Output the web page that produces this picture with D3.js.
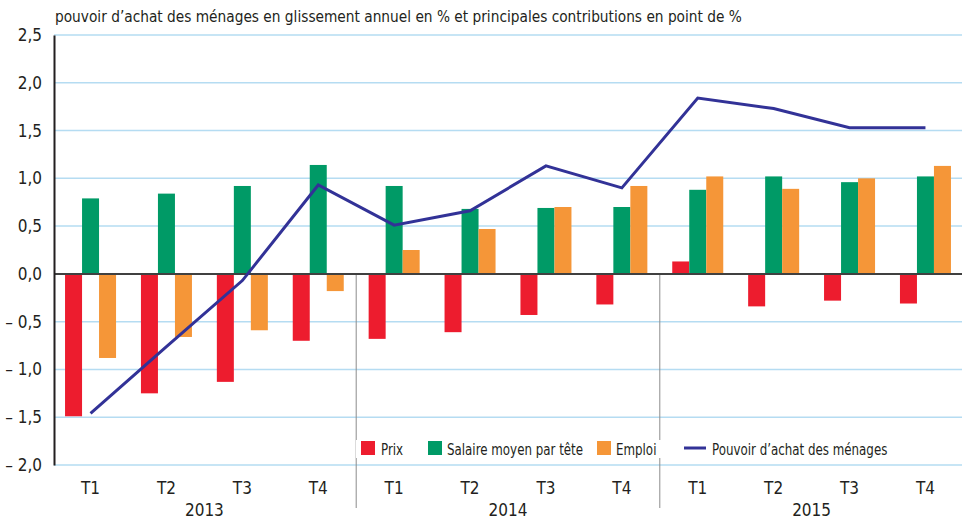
<!DOCTYPE html>
<html>
<head>
<meta charset="utf-8">
<script src="https://cdn.jsdelivr.net/npm/d3@7"></script>
<style>
	body { margin: 0; background: #fff; }
	svg text { font-family: "DejaVu Sans Condensed", "Liberation Sans Narrow", sans-serif; fill: #231f20; }
</style>
</head>
<body>
<div id="chartDiv"></div>
<script>
;(function() {

	const COLORS = {
		RED: '#ed1c2e',
		GREEN: '#009a66',
		ORANGE: '#f59638',
		LINE: '#323297',
		GRID: '#b5dcf2',
	};

	// data
	var years = ["2013", "2014", "2015"];
	var quarters = ["T1", "T2", "T3", "T4"];
	var prix = [-1.49, -1.25, -1.13, -0.70, -0.68, -0.61, -0.43, -0.32, 0.13, -0.34, -0.28, -0.31];
	var salaire = [0.79, 0.84, 0.92, 1.14, 0.92, 0.68, 0.69, 0.70, 0.88, 1.02, 0.96, 1.02];
	var emploi = [-0.88, -0.66, -0.59, -0.18, 0.25, 0.47, 0.70, 0.92, 1.02, 0.89, 1.00, 1.13];
	var pouvoir = [-1.46, -0.76, -0.07, 0.93, 0.51, 0.66, 1.13, 0.90, 1.84, 1.73, 1.53, 1.53];
	var yTicks = [-2, -1.5, -1, -0.5, 0, 0.5, 1, 1.5, 2, 2.5];
	var seriesNames = ["Prix", "Salaire moyen par tête", "Emploi"];
	var lineName = "Pouvoir d\u2019achat des ménages";
	var title = "pouvoir d\u2019achat des ménages en glissement annuel en % et principales contributions en point de %";

	var width = 962;
	var height = 519;
	var plot = { left: 54, right: 962, top: 35, bottom: 465 };

	var categories = [];
	years.forEach(y => quarters.forEach(q => categories.push({ id: y + q, year: y, q: q })));

	var svg = d3.select("#chartDiv").append("svg")
		.attr("width", width)
		.attr("height", height);

	var x0 = d3.scaleBand()
		.domain(categories.map(c => c.id))
		.range([plot.left, plot.right])
		.paddingInner(0.328)
		.paddingOuter(0.1455);

	var x1 = d3.scaleBand()
		.domain(seriesNames)
		.range([0, x0.bandwidth()]);

	var y = d3.scaleLinear()
		.domain([-2, 2.5])
		.range([plot.bottom, plot.top]);

	var fmt = d3.format(".1f");
	function tickLabel(v) {
		var s = fmt(Math.abs(v)).replace(".", ",");
		return v < 0 ? "\u2013 " + s : s;
	}

	// squeeze text horizontally around its anchor point
	function condensed(parent, x, yPos, size, sx, str) {
		return parent.append("text")
			.attr("transform", "translate(" + x + "," + yPos + ") scale(" + sx + ",1)")
			.style("font-size", size + "px")
			.text(str);
	}

	// title
	condensed(svg, 55, 22, 16, 0.955, title);

	// grid
	svg.append("g").selectAll("line")
		.data(yTicks.filter(v => v !== 0))
		.enter().append("line")
			.attr("x1", plot.left)
			.attr("x2", plot.right)
			.attr("y1", d => y(d))
			.attr("y2", d => y(d))
			.attr("stroke", COLORS.GRID)
			.attr("stroke-width", 1.5);

	// year separators
	var sepX = [4, 8].map(i => {
		var a = x0(categories[i - 1].id) + x0.bandwidth();
		var b = x0(categories[i].id);
		return (a + b) / 2;
	});
	svg.append("g").selectAll("line")
		.data(sepX)
		.enter().append("line")
			.attr("x1", d => d).attr("x2", d => d)
			.attr("y1", y(0)).attr("y2", 508)
			.attr("stroke", "#8c8c8c")
			.attr("stroke-width", 1);

	// bars
	var series = [prix, salaire, emploi];
	var barColors = [COLORS.RED, COLORS.GREEN, COLORS.ORANGE];
	series.forEach((vals, si) => {
		svg.append("g").selectAll("rect")
			.data(vals)
			.enter().append("rect")
				.attr("x", (d, i) => x0(categories[i].id) + x1(seriesNames[si]))
				.attr("width", x1.bandwidth())
				.attr("y", d => y(Math.max(0, d)))
				.attr("height", d => Math.abs(y(d) - y(0)))
				.attr("fill", barColors[si]);
	});

	// zero line
	svg.append("line")
		.attr("x1", plot.left).attr("x2", plot.right)
		.attr("y1", y(0)).attr("y2", y(0))
		.attr("stroke", "#404040")
		.attr("stroke-width", 2);

	// y axis
	var yAxis = d3.axisLeft(y)
		.tickValues(yTicks)
		.tickSize(0)
		.tickPadding(12)
		.tickFormat(tickLabel);
	var yAxisG = svg.append("g")
		.attr("transform", "translate(" + plot.left + ",0)")
		.call(yAxis);
	yAxisG.select(".domain").attr("stroke", "#231f20").attr("stroke-width", 2);
	yAxisG.selectAll("text")
		.style("font-size", "17px")
		.style("font-family", '"DejaVu Sans Condensed", sans-serif')
		.attr("fill", "#231f20");

	// line
	var line = d3.line()
		.x((d, i) => x0(categories[i].id) + x0.bandwidth() / 2)
		.y(d => y(d));
	svg.append("path")
		.datum(pouvoir)
		.attr("d", line)
		.attr("fill", "none")
		.attr("stroke", COLORS.LINE)
		.attr("stroke-width", 3);

	// x axis: quarters
	var xAxis = d3.axisBottom(x0)
		.tickSize(0)
		.tickPadding(0)
		.tickFormat(id => categories.find(c => c.id === id).q);
	var xAxisG = svg.append("g")
		.attr("transform", "translate(0,482)")
		.call(xAxis);
	xAxisG.select(".domain").remove();
	xAxisG.selectAll("text")
		.style("font-size", "17px")
		.style("font-family", '"DejaVu Sans Condensed", sans-serif')
		.attr("fill", "#231f20");

	// years
	svg.append("g").selectAll("text")
		.data(years)
		.enter().append("text")
			.attr("x", yr => {
				var a = x0(yr + "T1") + x0.bandwidth() / 2;
				var b = x0(yr + "T4") + x0.bandwidth() / 2;
				return (a + b) / 2;
			})
			.attr("y", 516)
			.attr("text-anchor", "middle")
			.style("font-size", "17px")
			.text(yr => yr);

	// legend
	var legend = svg.append("g");
	legend.append("rect")
		.attr("x", 356).attr("y", 440)
		.attr("width", 540).attr("height", 18)
		.attr("fill", "#fff");
	var legX = [361, 428, 597];
	seriesNames.forEach((name, i) => {
		legend.append("rect")
			.attr("x", legX[i]).attr("y", 441)
			.attr("width", 14).attr("height", 14)
			.attr("fill", barColors[i]);
		condensed(legend, legX[i] + (i === 0 ? 20 : 19), 455, 15, 0.88, name);
	});
	legend.append("line")
		.attr("x1", 684).attr("x2", 706)
		.attr("y1", 448).attr("y2", 448)
		.attr("stroke", COLORS.LINE)
		.attr("stroke-width", 3);
	condensed(legend, 712, 455, 15, 0.88, lineName);
})();
</script>
</body>
</html>
